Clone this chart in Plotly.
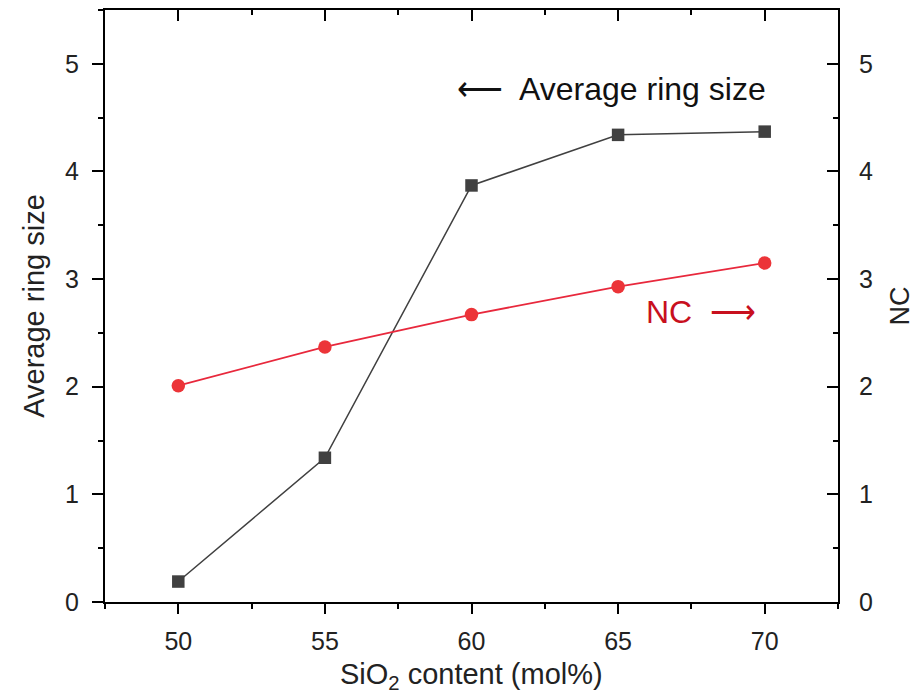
import plotly.graph_objects as go

sio2 = [50, 55, 60, 65, 70]
avg_ring = [0.19, 1.34, 3.87, 4.34, 4.37]
nc = [2.01, 2.37, 2.67, 2.93, 3.15]

x_ticks = [50, 55, 60, 65, 70]
y_ticks = [0, 1, 2, 3, 4, 5]

FONT = "Liberation Sans, Arial, sans-serif"
RED_LINE = "rgb(232,40,60)"
RED_MARK = "rgb(236,52,56)"
RED_TEXT = "rgb(200,16,30)"
DARK = "rgb(64,64,64)"

fig = go.Figure()
fig.add_trace(go.Scatter(
    x=sio2, y=avg_ring, mode="lines+markers", name="Average ring size",
    line=dict(color=DARK, width=1.5),
    marker=dict(symbol="square", size=12.5, color=DARK),
    xaxis="x", yaxis="y"))
fig.add_trace(go.Scatter(
    x=sio2, y=nc, mode="lines+markers", name="NC",
    line=dict(color=RED_LINE, width=1.8),
    marker=dict(symbol="circle", size=13.5, color=RED_MARK),
    xaxis="x", yaxis="y2"))
# invisible trace to carry the top (mirror) axis
fig.add_trace(go.Scatter(
    x=sio2, y=avg_ring, mode="markers", marker=dict(opacity=0),
    showlegend=False, hoverinfo="skip", xaxis="x2", yaxis="y"))

axis_common = dict(showline=True, linecolor="black", linewidth=2,
                   showgrid=False, zeroline=False, automargin=False,
                   tickcolor="black", tickwidth=1.5,
                   tickfont=dict(family=FONT, size=25, color="#222"))

fig.update_layout(
    width=922, height=694,
    margin=dict(l=105, r=84, t=10, b=92),
    paper_bgcolor="white", plot_bgcolor="white",
    showlegend=False,
    font=dict(family=FONT, color="#222"),
    xaxis=dict(range=[47.5, 72.5], tickvals=x_ticks, ticks="outside", ticklen=10,
               minor=dict(dtick=2.5, ticks="outside", ticklen=5, tickcolor="black", tickwidth=1.5),
               ticklabelstandoff=6,
               **axis_common),
    xaxis2=dict(range=[47.5, 72.5], tickvals=x_ticks, ticks="inside", ticklen=11,
                minor=dict(dtick=2.5, ticks="inside", ticklen=5, tickcolor="black", tickwidth=1.5),
                overlaying="x", side="top", anchor="y", showticklabels=False,
                **axis_common),
    yaxis=dict(range=[0, 5.5], tickvals=y_ticks, ticks="outside", ticklen=11,
               minor=dict(dtick=0.5, ticks="outside", ticklen=5, tickcolor="black", tickwidth=1.5),
               ticklabelstandoff=8,
               title=dict(text="Average ring size", font=dict(family=FONT, size=29, color="#222"), standoff=12),
               **axis_common),
    yaxis2=dict(range=[0, 5.5], tickvals=y_ticks, ticks="inside", ticklen=11,
                minor=dict(dtick=0.5, ticks="inside", ticklen=5, tickcolor="black", tickwidth=1.5),
                overlaying="y", side="right", anchor="x", ticklabelstandoff=14,
                title=dict(text="NC", font=dict(family=FONT, size=27, color="#222"), standoff=18),
                **axis_common),
    annotations=[
        dict(x=0.5, y=-0.092, xref="paper", yref="paper", xanchor="center", yanchor="top",
             text="SiO<sub>2</sub> content (mol%)", showarrow=False,
             font=dict(family=FONT, size=29, color="#222")),
        dict(x=70.12, y=4.77, xref="x", yref="y", xanchor="right", yanchor="middle",
             text="⟵  Average ring size", showarrow=False,
             font=dict(family=FONT, size=32, color="#111")),
        dict(x=65.9, y=2.69, xref="x", yref="y", xanchor="left", yanchor="middle",
             text="NC  ⟶", showarrow=False,
             font=dict(family=FONT, size=32, color=RED_TEXT)),
    ],
)

fig.write_html("out.html", config={"displayModeBar": False},
               post_script="document.body.style.margin='0';")
